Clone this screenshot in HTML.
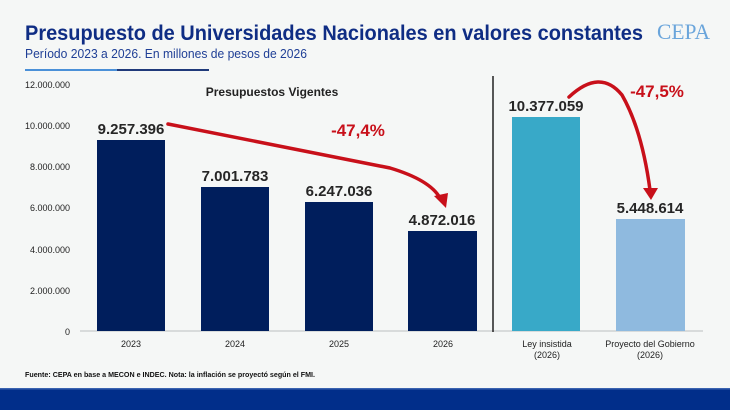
<!DOCTYPE html>
<html><head><meta charset="utf-8"><style>
body{margin:0;width:730px;height:410px;overflow:hidden;background:#f5f7f6;font-family:"Liberation Sans",sans-serif;}
</style></head><body>
<svg width="730" height="410" xmlns="http://www.w3.org/2000/svg" style="position:absolute;left:0;top:0">
<rect width="730" height="410" fill="#f5f7f6"/>
<text x="25" y="40" font-size="21" font-weight="bold" fill="#0f2d84" textLength="618" lengthAdjust="spacingAndGlyphs">Presupuesto de Universidades Nacionales en valores constantes</text>
<text x="25" y="58" font-size="13" fill="#1f3f96" textLength="282" lengthAdjust="spacingAndGlyphs">Período 2023 a 2026. En millones de pesos de 2026</text>
<text x="657" y="39" font-size="22" font-family="Liberation Serif,serif" fill="#6aa5db" textLength="53" lengthAdjust="spacingAndGlyphs">CEPA</text>
<rect x="25" y="69" width="92" height="2" fill="#4a90d8"/>
<rect x="117" y="69" width="92" height="2" fill="#1f3a7a"/>
<g font-size="9" fill="#222" text-anchor="end">
<text x="70" y="88">12.000.000</text><text x="70" y="129">10.000.000</text><text x="70" y="170">8.000.000</text><text x="70" y="211">6.000.000</text><text x="70" y="253">4.000.000</text><text x="70" y="294">2.000.000</text><text x="70" y="335">0</text>
</g>
<line x1="80" y1="331" x2="703" y2="331" stroke="#cfd2d2" stroke-width="1.5"/>
<line x1="493" y1="76" x2="493" y2="332" stroke="#222" stroke-width="1.5"/>
<g fill="#001e5c">
<rect x="97" y="140" width="68" height="191"/><rect x="201" y="187" width="68" height="144"/><rect x="305" y="202" width="68" height="129"/><rect x="408" y="231" width="69" height="100"/>
</g>
<rect x="512" y="117" width="68" height="214" fill="#38a9c8"/>
<rect x="616" y="219" width="69" height="112" fill="#8fbadf"/>
<text x="272" y="96" font-size="12" font-weight="bold" text-anchor="middle" fill="#222">Presupuestos Vigentes</text>
<g font-size="15" font-weight="bold" fill="#262626" text-anchor="middle">
<text x="131" y="134">9.257.396</text><text x="235" y="181">7.001.783</text><text x="339" y="196">6.247.036</text><text x="442" y="225">4.872.016</text><text x="546" y="111">10.377.059</text><text x="650" y="213">5.448.614</text>
</g>
<g fill="none" stroke="#c8101a" stroke-width="3.5" stroke-linecap="round">
<path d="M168 124 L390 168 Q430 180 440 198"/>
<path d="M569 97 Q600 68 622 95 Q642 130 650 190"/>
</g>
<path d="M434 196 L448 193 L446 208 Z" fill="#c8101a"/>
<path d="M643 188 L658 188 L651 200 Z" fill="#c8101a"/>
<text x="358" y="136" font-size="17" font-weight="bold" fill="#c8101a" text-anchor="middle">-47,4%</text>
<text x="657" y="97" font-size="17" font-weight="bold" fill="#c8101a" text-anchor="middle">-47,5%</text>
<g font-size="9" fill="#222" text-anchor="middle">
<text x="131" y="347">2023</text><text x="235" y="347">2024</text><text x="339" y="347">2025</text><text x="443" y="347">2026</text>
<text x="547" y="347">Ley insistida</text><text x="547" y="358">(2026)</text>
<text x="650" y="347">Proyecto del Gobierno</text><text x="650" y="358">(2026)</text>
</g>
<text x="25" y="377" font-size="7" font-weight="bold" fill="#111" textLength="290" lengthAdjust="spacingAndGlyphs">Fuente: CEPA en base a MECON e INDEC. Nota: la inflación se proyectó según el FMI.</text>
<rect x="0" y="389" width="730" height="21" fill="#012e8a"/>
<rect x="0" y="388" width="730" height="1.5" fill="#3a63b0"/>
</svg>
</body></html>
